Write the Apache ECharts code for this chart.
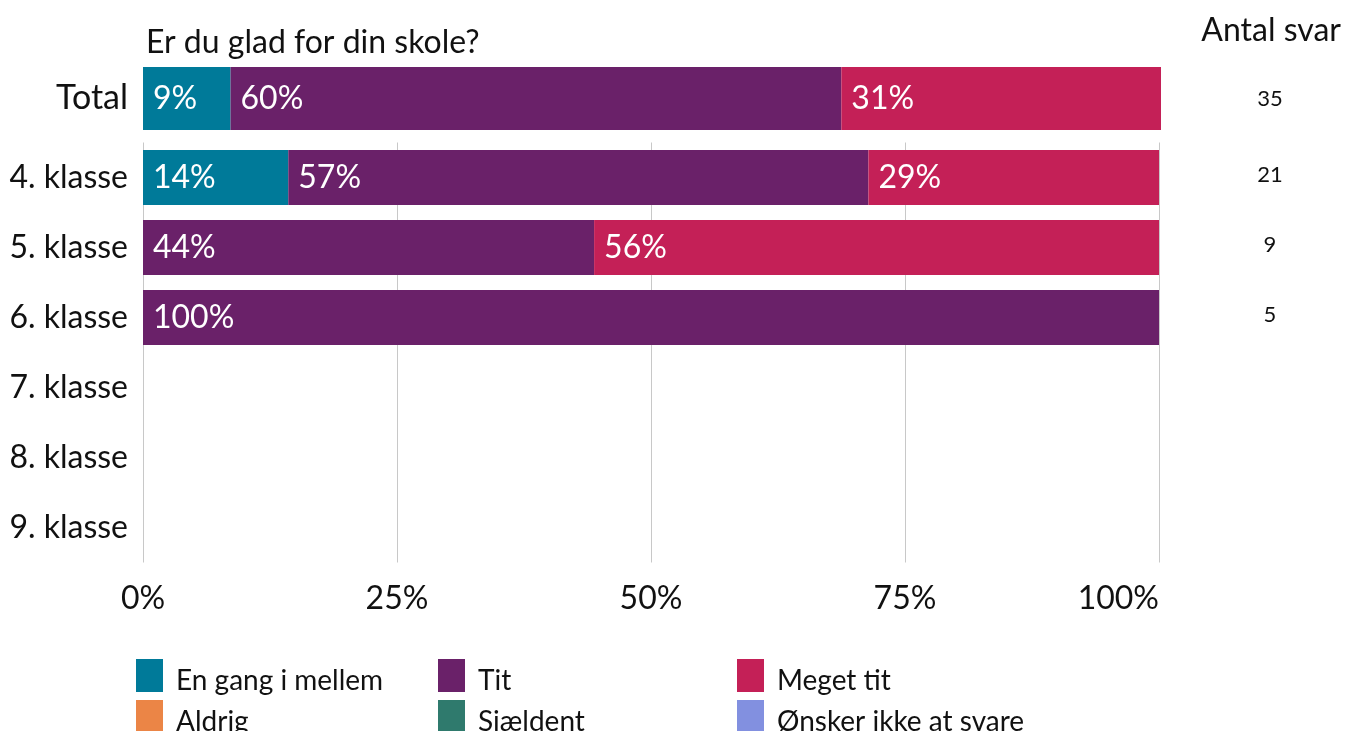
<!DOCTYPE html>
<html>
<head>
<meta charset="utf-8">
<script src="https://cdn.jsdelivr.net/npm/echarts@6/dist/echarts.min.js"></script>
<style>
  html, body { margin: 0; padding: 0; background: #fff; }
  #chart { width: 1345px; height: 731px; }
</style>
</head>
<body>
<div id="chart"></div>
<script>
// data
let totalLabel = ['Total'];
let klasser = ['4. klasse', '5. klasse', '6. klasse', '7. klasse', '8. klasse', '9. klasse'];
let totalCount = [35];
let klasseCount = [21, 9, 5, '', '', ''];
let xTicks = ['0%', '25%', '50%', '75%', '100%'];

let seriesNames = ['Aldrig', 'Sjældent', 'En gang i mellem', 'Tit', 'Meget tit', 'Ønsker ikke at svare'];
let seriesColors = ['#eb8546', '#2f7a6d', '#007a99', '#6a2169', '#c42057', '#8290e0'];
// procent pr. serie, Total
let totalValues = [
    [0], [0], [8.6], [60.0], [31.4], [0]
];
// procent pr. serie, 4.-9. klasse
let klasseValues = [
    [0, 0, 0, 0, 0, 0],
    [0, 0, 0, 0, 0, 0],
    [14.3, 0, 0, 0, 0, 0],
    [57.1, 44.4, 100, 0, 0, 0],
    [28.6, 55.6, 0, 0, 0, 0],
    [0, 0, 0, 0, 0, 0]
];
// legend: [navn, left, top]
let legendPos = [
    ['En gang i mellem', 136, 659], ['Tit', 438, 659], ['Meget tit', 737, 659],
    ['Aldrig', 136, 700], ['Sjældent', 438, 700], ['Ønsker ikke at svare', 737, 700]
];

let font = 'Lato, "Noto Sans", sans-serif';
let chart = echarts.init(document.getElementById('chart'));

let barLabel = {
    show: true,
    position: 'insideLeft',
    distance: 10,
    color: '#fff',
    fontSize: 32,
    fontFamily: font,
    formatter: function (p) {
        return p.value > 0 ? Math.round(p.value) + '%' : '';
    }
};

let series = [];
seriesNames.forEach(function (name, i) {
    series.push({
        name: name, type: 'bar', stack: 'total', xAxisIndex: 0, yAxisIndex: 0,
        barWidth: '100%', itemStyle: {color: seriesColors[i]},
        label: barLabel, data: totalValues[i]
    });
    series.push({
        name: name, type: 'bar', stack: 'klasse', xAxisIndex: 1, yAxisIndex: 2,
        barWidth: 55, itemStyle: {color: seriesColors[i]},
        label: barLabel, data: klasseValues[i]
    });
});

let legends = legendPos.map(function (l) {
    return {
        left: l[1], top: l[2], itemWidth: 27, itemHeight: 33,
        icon: 'rect', selectedMode: false, padding: 0,
        formatter: '{a|{name}}',
        textStyle: {
            fontSize: 28, fontFamily: font, color: '#111',
            rich: {a: {fontSize: 28, fontFamily: font, color: '#111', padding: [10, 0, 0, 8]}}
        },
        data: [l[0]]
    };
});

let option = {
    animation: false,
    textStyle: {fontFamily: font},
    title: [
        {text: 'Er du glad for din skole?', left: 146, top: 27, padding: 0,
            textStyle: {fontSize: 32, fontWeight: 'normal', color: '#111', fontFamily: font}},
        {text: 'Antal svar', right: 4, top: 15, padding: 0,
            textStyle: {fontSize: 32, fontWeight: 'normal', color: '#111', fontFamily: font}}
    ],
    legend: legends,
    grid: [
        {left: 143, top: 67, width: 1018, height: 63},
        {left: 143, top: 142.5, width: 1016, height: 420}
    ],
    xAxis: [
        {gridIndex: 0, type: 'value', min: 0, max: 100, show: false},
        {gridIndex: 1, type: 'value', min: 0, max: 100, interval: 25,
            axisLine: {show: false}, axisTick: {show: false},
            splitLine: {show: true, lineStyle: {color: '#c8c8c8', width: 1}},
            axisLabel: {fontSize: 32, color: '#111', fontFamily: font, margin: 20,
                alignMaxLabel: 'right',
                formatter: function (v) { return xTicks[v / 25]; }}}
    ],
    yAxis: [
        {gridIndex: 0, type: 'category', data: totalLabel, inverse: true,
            axisLine: {show: false}, axisTick: {show: false},
            axisLabel: {fontSize: 34, color: '#111', fontFamily: font, margin: 15}},
        {gridIndex: 0, type: 'category', data: totalCount, position: 'right', inverse: true,
            axisLine: {show: false}, axisTick: {show: false},
            axisLabel: {fontSize: 22, color: '#111', fontFamily: font, margin: 109, align: 'center'}},
        {gridIndex: 1, type: 'category', data: klasser, inverse: true,
            axisLine: {show: false}, axisTick: {show: false},
            axisLabel: {fontSize: 32, color: '#111', fontFamily: font, margin: 15}},
        {gridIndex: 1, type: 'category', data: klasseCount, position: 'right', inverse: true,
            axisLine: {show: false}, axisTick: {show: false},
            axisLabel: {fontSize: 22, color: '#111', fontFamily: font, margin: 111, align: 'center',
                verticalAlign: 'bottom', lineHeight: 5}}
    ],
    series: series
};
chart.setOption(option);
</script>
</body>
</html>
